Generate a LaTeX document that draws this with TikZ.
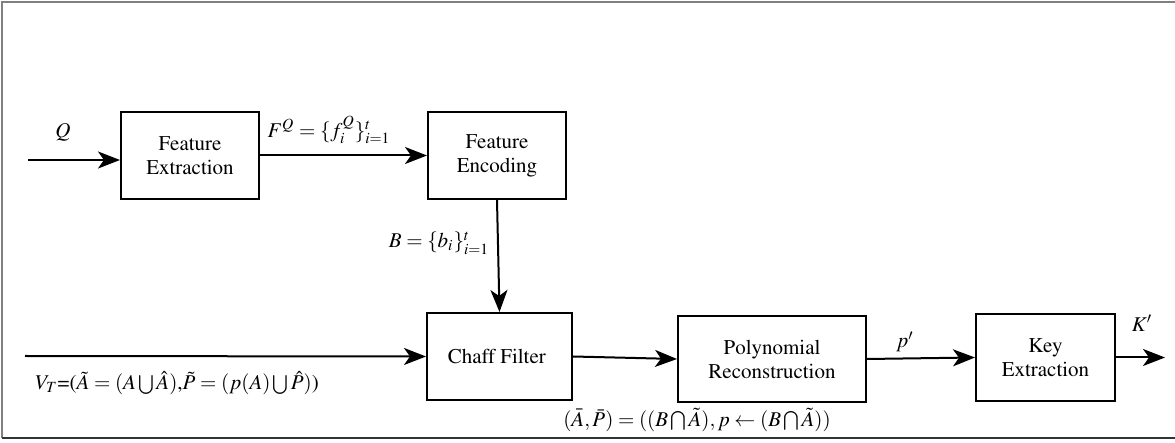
\documentclass[tikz,border=0pt]{standalone}
\usepackage[T1]{fontenc}
\usepackage{mathptmx}
\usepackage{tikz}
\usetikzlibrary{positioning}
\usetikzlibrary{arrows.meta}

\tikzset{
    block/.style={rectangle, draw, line width=1pt, align=center, inner sep=0pt,
        minimum height=43.5pt, font=\fontsize{10.5}{12}\selectfont},
    flow/.style={line width=1pt, -{Stealth[length=11pt, width=8.5pt, inset=3pt]}},
    lbl/.style={inner sep=0pt, font=\fontsize{10.5}{12}\selectfont},
}

\begin{document}
\begin{tikzpicture}[x=0.5pt, y=-0.5pt]
    \useasboundingbox (0,0) rectangle (1175,443);
    % frame
    \draw[gray, line width=1pt] (1175,2) -- (2,2) -- (2,438);
    \draw[black!80, line width=1pt] (2,438) -- (1175,438);
    \path
        node (fext) at (190,155.5)  [block, minimum width=69pt] { Feature\\Extraction }
        node (fenc) at (497,155.5)  [block, minimum width=69pt] { Feature\\Encoding }
        node (chaff) at (499.5,356.5) [block, minimum width=72.5pt] { Chaff Filter }
        node (poly) at (772,359)    [block, minimum width=94pt, minimum height=43pt] { Polynomial\\Reconstruction }
        node (kext) at (1045.5,357.5) [block, minimum width=69.5pt] { Key\\Extraction };
    \coordinate (qin) at (28,160);
    \coordinate (vin) at (25,356);
    \coordinate (kout) at (1165,357.5);
    %\draw (fenc) -- (chaff);
    \draw[flow] (qin) -- (qin -| fext.west);
    \draw[flow] (fext) -- (fenc);
    \draw[flow] (fenc.south) -- (chaff.north);
    \draw[flow] (vin) -- (chaff.west);
    \draw[flow] (chaff.east) -- (poly.west);
    \draw[flow] (poly.east) -- (kext.west);
    \draw[flow] (kext.east) -- (kout);
    \path
        node (lq) at (63,132) [lbl] { $Q$ }
        node (lfq) at (329,130) [lbl] { $F^Q=\{f_i^Q\}_{i=1}^t$ }
        node (lb) at (439,243) [lbl] { $B=\{b_i\}_{i=1}^t$ }
        node (lvt) at (35,383) [lbl, anchor=west] { $V_T$=($\tilde{A}=(A\bigcup\hat{A})$,$\tilde{P}=(p(A)\bigcup\hat{P})$) }
        node (lap) at (697,420) [lbl] { $(\bar{A},\bar{P})=((B\bigcap\tilde{A}),p\leftarrow(B\bigcap\tilde{A}))$ }
        node (lp) at (905,342) [lbl] { $p'$ }
        node (lk) at (1142,323) [lbl] { $K'$ };
\end{tikzpicture}
\end{document}
